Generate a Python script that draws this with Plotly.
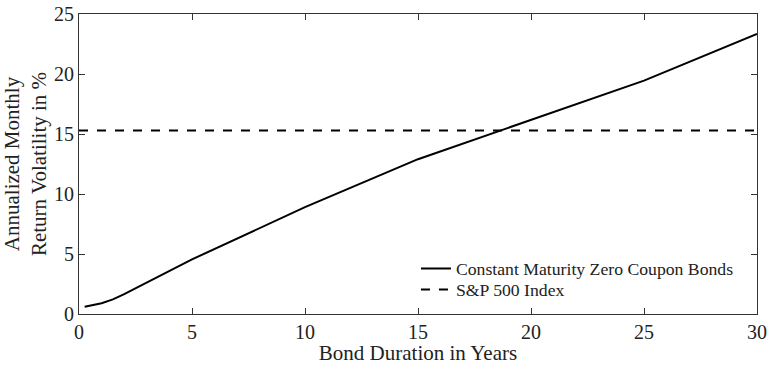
import plotly.graph_objects as go

duration = [0.25, 1.0, 1.5, 2.0, 5.0, 10.0, 15.0, 20.0, 25.0, 30.0]
bond_vol = [0.6, 0.9, 1.22, 1.65, 4.55, 8.9, 12.9, 16.2, 19.45, 23.35]
sp_x = [0, 30]
sp_vol = [15.3, 15.3]

fam = "Liberation Serif, Times New Roman, serif"
tick_font = dict(family=fam, color="#222", size=20)
title_font = dict(family=fam, color="#222", size=21)
leg_font = dict(family=fam, color="#222", size=17.7)

fig = go.Figure()
fig.add_trace(go.Scatter(x=duration, y=bond_vol, mode="lines",
                         line=dict(color="black", width=2),
                         name="Constant Maturity Zero Coupon Bonds", legend="legend"))
fig.add_trace(go.Scatter(x=sp_x, y=sp_vol, mode="lines",
                         line=dict(color="black", width=2, dash="dash"),
                         name="S&P 500 Index", legend="legend2"))

axis_common = dict(showline=True, linecolor="#333", linewidth=1, mirror="allticks",
                   ticks="inside", ticklen=6, tickcolor="#333", showgrid=False,
                   zeroline=False, tickfont=tick_font, automargin=False)
fig.update_xaxes(range=[0, 30], tickvals=[0, 5, 10, 15, 20, 25, 30],
                 title=dict(text="Bond Duration in Years", font=title_font, standoff=3),
                 **axis_common)
fig.update_yaxes(range=[0, 25], tickvals=[0, 5, 10, 15, 20, 25],
                 title=dict(text="Annualized Monthly<br>Return Volatility in %", font=title_font, standoff=4),
                 **axis_common)
leg_common = dict(xanchor="left", yanchor="middle", bgcolor="rgba(0,0,0,0)",
                  font=leg_font, borderwidth=0)
fig.update_layout(
    width=767, height=365,
    margin=dict(l=79, r=10, t=14, b=51),
    plot_bgcolor="white", paper_bgcolor="white",
    font=tick_font,
    showlegend=True,
    legend=dict(x=0.497, y=0.15, **leg_common),
    legend2=dict(x=0.497, y=0.08, **leg_common),
)
fig.write_html("out.html")
